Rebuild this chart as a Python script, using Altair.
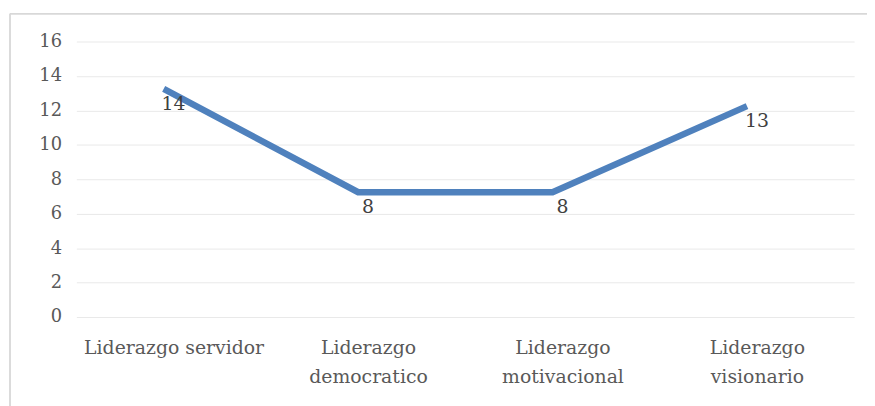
import altair as alt
import pandas as pd

categories = ["Liderazgo servidor", "Liderazgo democratico", "Liderazgo motivacional", "Liderazgo visionario"]
line_values = [13.25, 7.25, 7.25, 12.25]
label_values = [14, 8, 8, 13]

df = pd.DataFrame({"cat": categories, "line": line_values, "label": label_values})

W, H = 785, 278
FONT = "DejaVu Serif"

x = alt.X("cat:N", sort=categories, title=None,
          scale=alt.Scale(paddingInner=0, paddingOuter=0),
          axis=alt.Axis(labelAngle=0, labelFont=FONT, labelFontSize=19, labelColor="#595959",
                        labelPadding=31, labelLineHeight=29, ticks=False, domain=False,
                        labelBaseline="middle", labelLimit=400,
                        labelExpr="datum.value == 'Liderazgo servidor' ? datum.value : split(datum.value, ' ')"))
y_axis = alt.Axis(values=list(range(0, 17, 2)), labelFont=FONT, labelFontSize=18, labelColor="#595959",
                  labelPadding=15, ticks=False, domain=False, gridColor="#e9e9e9", gridWidth=1,
                  labelOverlap=False)
yscale = alt.Scale(domain=[0, 16], nice=False)

border = alt.Chart(df).mark_rect(fill=None, stroke="#d9d9d9", strokeWidth=1).encode(
    x=alt.value(-67), x2=alt.value(W + 40), y=alt.value(-28), y2=alt.value(H + 120))

line = alt.Chart(df).mark_line(color="#4f81bd", strokeWidth=6.5).encode(
    x=x, y=alt.Y("line:Q", scale=yscale, axis=y_axis, title=None),
    xOffset=alt.value(-10))

text = alt.Chart(df).mark_text(font=FONT, fontSize=19, color="#404040", dy=28, baseline="middle").encode(
    x=x, y=alt.Y("label:Q", scale=yscale, axis=y_axis, title=None), text="label:N")

chart = alt.layer(border, line, text).properties(
    width=W, height=H,
    autosize=alt.AutoSizeParams(type="none"),
    padding={"left": 69, "top": 32, "right": 13, "bottom": 88},
    background="white",
).configure_view(stroke=None)

chart.save("out.html", embed_options={"renderer": "svg", "actions": False})
